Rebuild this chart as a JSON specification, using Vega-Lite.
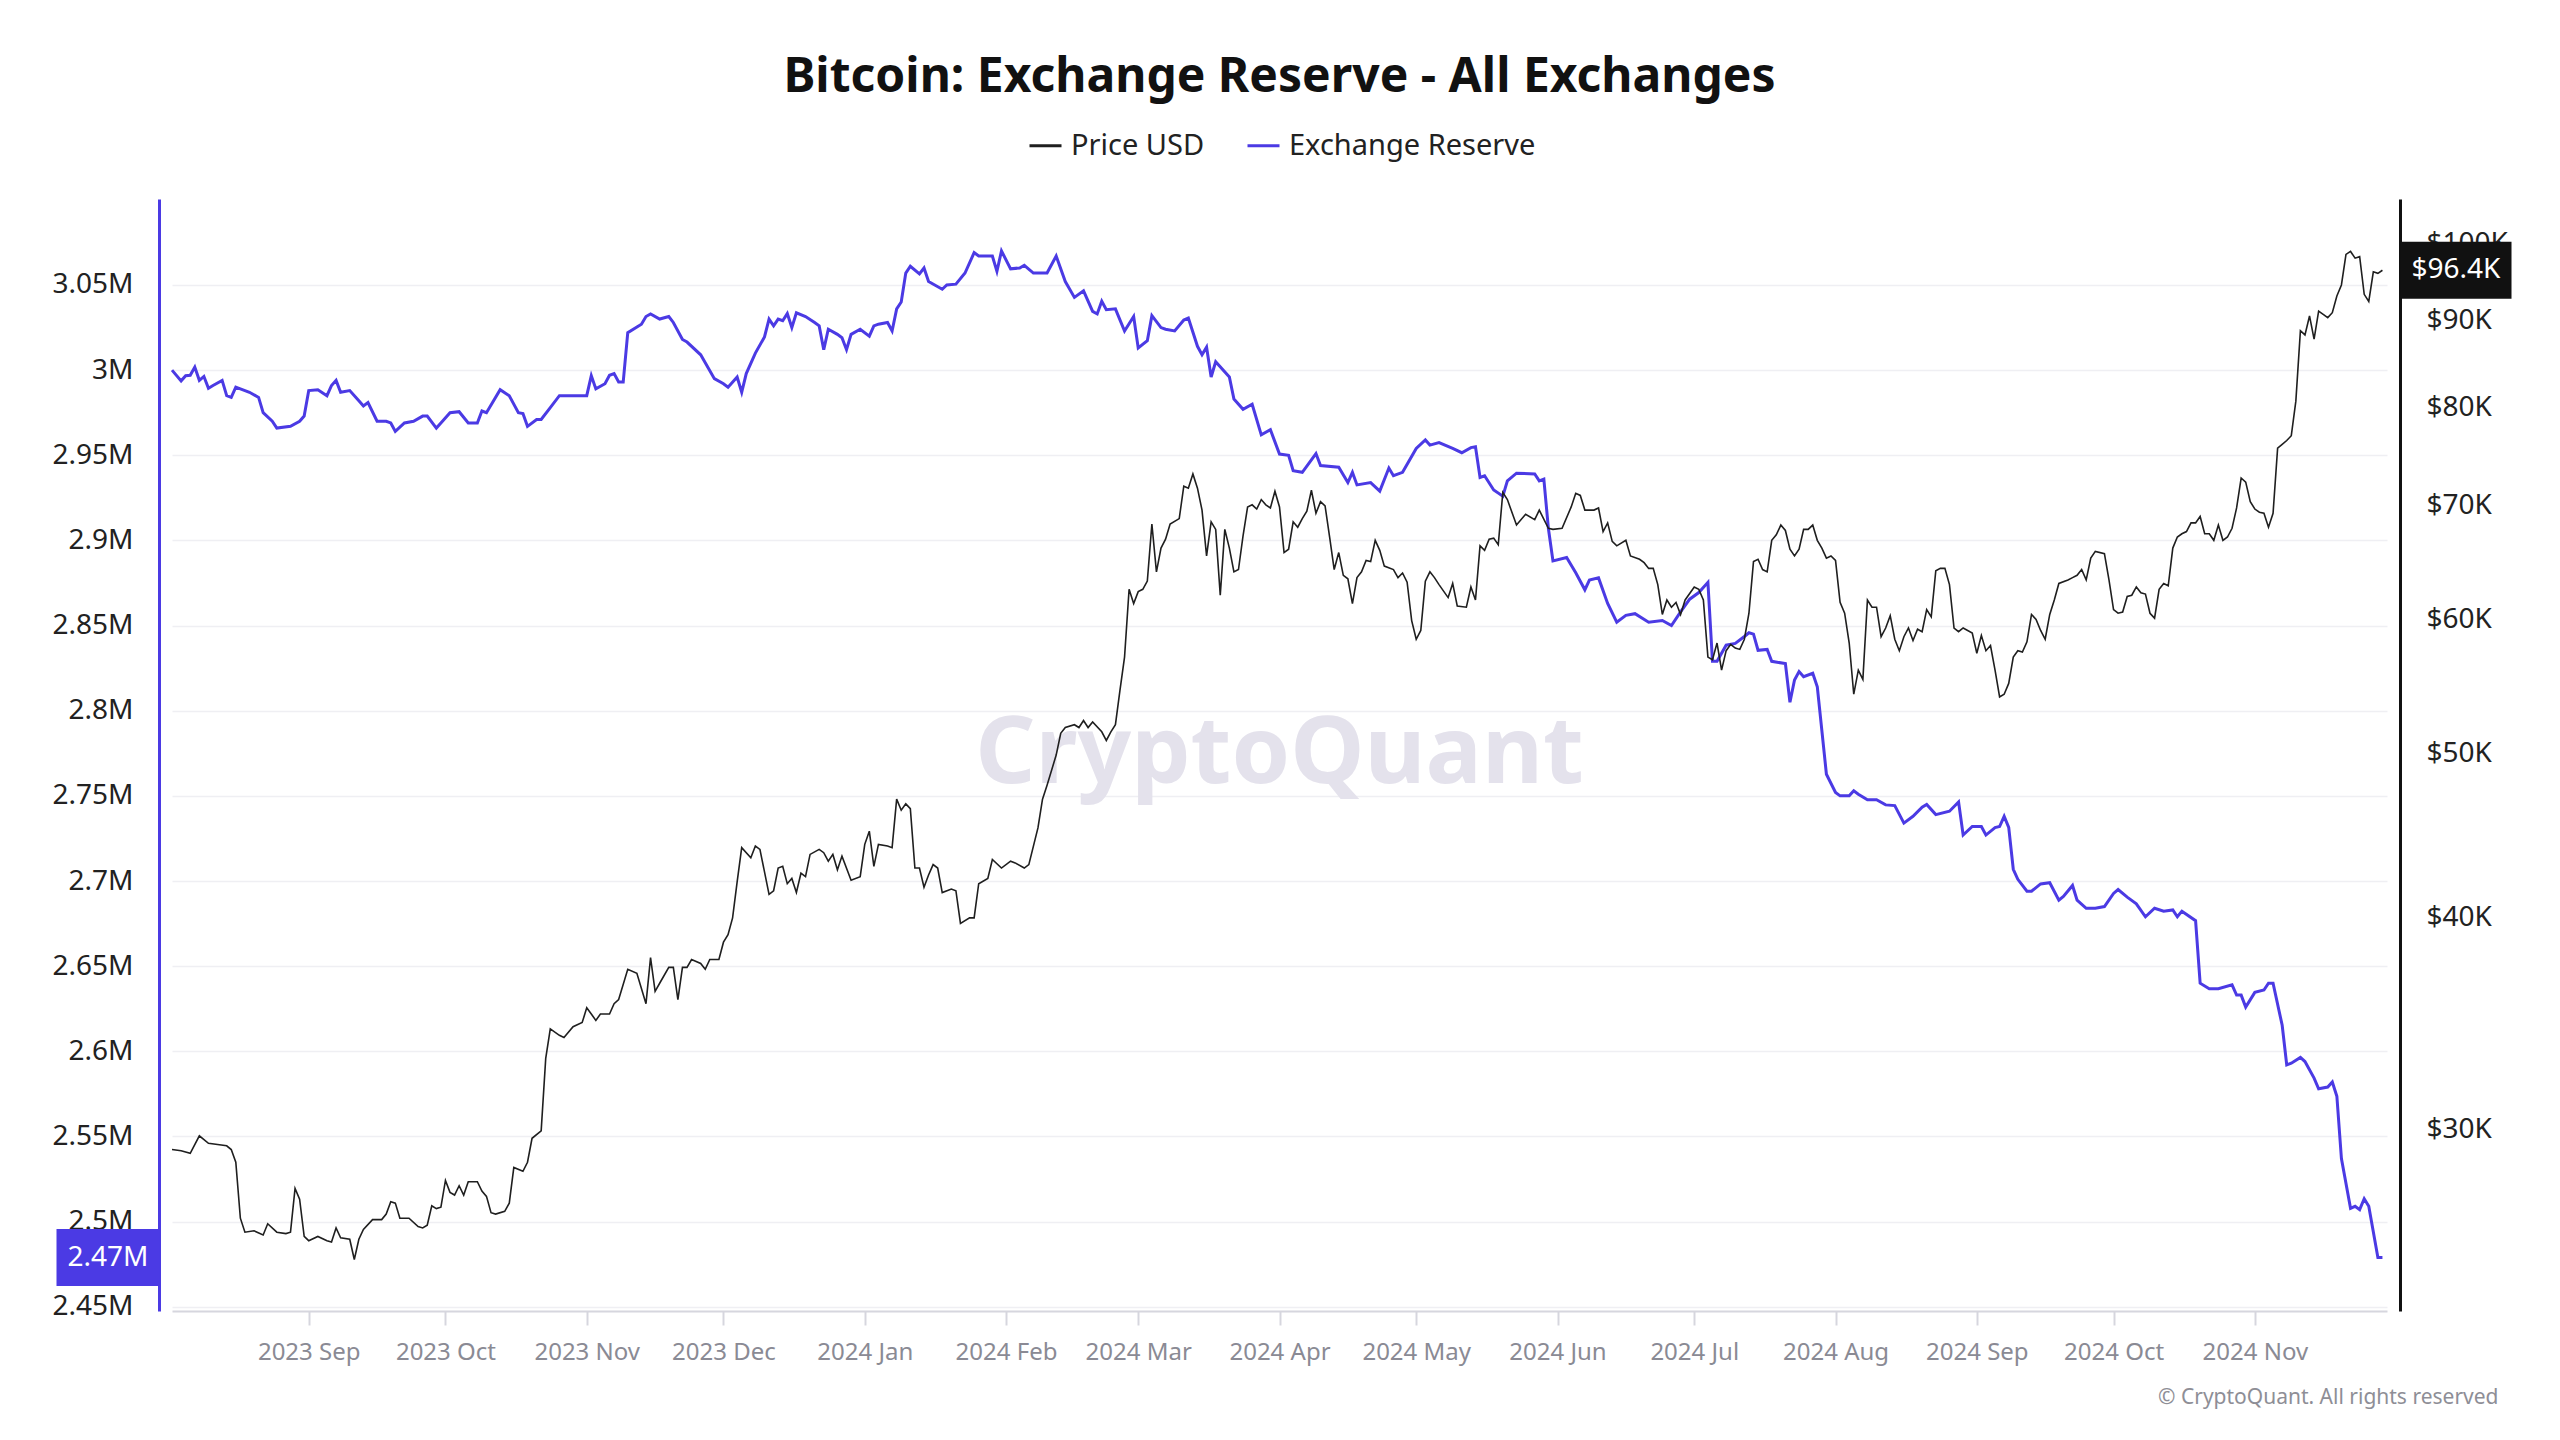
{
  "$schema": "https://vega.github.io/schema/vega-lite/v6.json",
  "width": 2215,
  "height": 1112,
  "autosize": {"type": "none"},
  "padding": {"left": 172, "top": 199, "right": 173, "bottom": 129},
  "background": "white",
  "title": {"text": "Bitcoin: Exchange Reserve - All Exchanges", "font": "Noto Sans", "fontSize": 48, "fontWeight": "bold", "color": "#111111", "anchor": "middle", "offset": 36, "dy": 48, "baseline": "alphabetic"},
  "config": {"view": {"stroke": null}, "font": "Noto Sans"},
  "datasets": {
    "price": [
      {"date":"2023-08-02","price":29200},{"date":"2023-08-04","price":29150},{"date":"2023-08-06","price":29050},{"date":"2023-08-08","price":29750},{"date":"2023-08-10","price":29450},{"date":"2023-08-12","price":29400},{"date":"2023-08-14","price":29350},{"date":"2023-08-15","price":29200},{"date":"2023-08-16","price":28700},{"date":"2023-08-17","price":26600},{"date":"2023-08-18","price":26100},{"date":"2023-08-20","price":26150},{"date":"2023-08-22","price":26000},{"date":"2023-08-23","price":26400},{"date":"2023-08-25","price":26100},{"date":"2023-08-27","price":26050},{"date":"2023-08-28","price":26100},{"date":"2023-08-29","price":27700},{"date":"2023-08-30","price":27300},{"date":"2023-08-31","price":25950},
      {"date":"2023-09-01","price":25800},{"date":"2023-09-03","price":25950},{"date":"2023-09-05","price":25800},{"date":"2023-09-06","price":25750},{"date":"2023-09-07","price":26250},{"date":"2023-09-08","price":25900},{"date":"2023-09-10","price":25850},{"date":"2023-09-11","price":25150},{"date":"2023-09-12","price":25850},{"date":"2023-09-13","price":26200},{"date":"2023-09-15","price":26550},{"date":"2023-09-17","price":26550},{"date":"2023-09-18","price":26750},{"date":"2023-09-19","price":27200},{"date":"2023-09-20","price":27150},{"date":"2023-09-21","price":26600},{"date":"2023-09-23","price":26600},{"date":"2023-09-25","price":26300},{"date":"2023-09-26","price":26250},{"date":"2023-09-27","price":26350},{"date":"2023-09-28","price":27050},{"date":"2023-09-29","price":26950},{"date":"2023-09-30","price":27000},
      {"date":"2023-10-01","price":28000},{"date":"2023-10-02","price":27550},{"date":"2023-10-03","price":27450},{"date":"2023-10-04","price":27800},{"date":"2023-10-05","price":27450},{"date":"2023-10-06","price":27950},{"date":"2023-10-08","price":27950},{"date":"2023-10-09","price":27600},{"date":"2023-10-10","price":27400},{"date":"2023-10-11","price":26800},{"date":"2023-10-12","price":26750},{"date":"2023-10-14","price":26850},{"date":"2023-10-15","price":27150},{"date":"2023-10-16","price":28500},{"date":"2023-10-18","price":28350},{"date":"2023-10-19","price":28700},{"date":"2023-10-20","price":29650},{"date":"2023-10-22","price":29950},{"date":"2023-10-23","price":33050},{"date":"2023-10-24","price":34400},{"date":"2023-10-26","price":34100},{"date":"2023-10-27","price":34000},{"date":"2023-10-29","price":34500},{"date":"2023-10-31","price":34700},
      {"date":"2023-11-01","price":35400},{"date":"2023-11-02","price":35100},{"date":"2023-11-03","price":34800},{"date":"2023-11-04","price":35100},{"date":"2023-11-06","price":35100},{"date":"2023-11-07","price":35600},{"date":"2023-11-08","price":35800},{"date":"2023-11-10","price":37300},{"date":"2023-11-12","price":37100},{"date":"2023-11-14","price":35600},{"date":"2023-11-15","price":37900},{"date":"2023-11-16","price":36200},{"date":"2023-11-17","price":36600},{"date":"2023-11-19","price":37400},{"date":"2023-11-20","price":37400},{"date":"2023-11-21","price":35800},{"date":"2023-11-22","price":37400},{"date":"2023-11-23","price":37400},{"date":"2023-11-24","price":37800},{"date":"2023-11-26","price":37600},{"date":"2023-11-27","price":37300},{"date":"2023-11-28","price":37800},{"date":"2023-11-30","price":37800},
      {"date":"2023-12-01","price":38700},{"date":"2023-12-02","price":39100},{"date":"2023-12-03","price":40000},{"date":"2023-12-04","price":42000},{"date":"2023-12-05","price":44000},{"date":"2023-12-07","price":43400},{"date":"2023-12-08","price":44100},{"date":"2023-12-09","price":43900},{"date":"2023-12-11","price":41300},{"date":"2023-12-12","price":41500},{"date":"2023-12-13","price":42800},{"date":"2023-12-14","price":42900},{"date":"2023-12-15","price":41900},{"date":"2023-12-16","price":42200},{"date":"2023-12-17","price":41400},{"date":"2023-12-18","price":42500},{"date":"2023-12-19","price":42300},{"date":"2023-12-20","price":43600},{"date":"2023-12-22","price":43900},{"date":"2023-12-23","price":43700},{"date":"2023-12-24","price":43200},{"date":"2023-12-25","price":43600},{"date":"2023-12-26","price":42700},{"date":"2023-12-27","price":43500},{"date":"2023-12-29","price":42100},{"date":"2023-12-31","price":42300},
      {"date":"2024-01-01","price":44200},{"date":"2024-01-02","price":45000},{"date":"2024-01-03","price":42900},{"date":"2024-01-04","price":44200},{"date":"2024-01-06","price":44100},{"date":"2024-01-07","price":44000},{"date":"2024-01-08","price":47000},{"date":"2024-01-09","price":46300},{"date":"2024-01-10","price":46700},{"date":"2024-01-11","price":46400},{"date":"2024-01-12","price":42800},{"date":"2024-01-13","price":42800},{"date":"2024-01-14","price":41700},{"date":"2024-01-15","price":42400},{"date":"2024-01-16","price":43000},{"date":"2024-01-17","price":42800},{"date":"2024-01-18","price":41400},{"date":"2024-01-20","price":41600},{"date":"2024-01-21","price":41500},{"date":"2024-01-22","price":39700},{"date":"2024-01-24","price":40000},{"date":"2024-01-25","price":40000},{"date":"2024-01-26","price":41900},{"date":"2024-01-28","price":42200},{"date":"2024-01-29","price":43300},{"date":"2024-01-31","price":42800},
      {"date":"2024-02-02","price":43200},{"date":"2024-02-03","price":43100},{"date":"2024-02-05","price":42800},{"date":"2024-02-06","price":43000},{"date":"2024-02-08","price":45200},{"date":"2024-02-09","price":47000},{"date":"2024-02-10","price":47900},{"date":"2024-02-12","price":49900},{"date":"2024-02-13","price":51400},{"date":"2024-02-14","price":51800},{"date":"2024-02-16","price":52000},{"date":"2024-02-17","price":51800},{"date":"2024-02-18","price":52300},{"date":"2024-02-19","price":51800},{"date":"2024-02-20","price":52200},{"date":"2024-02-22","price":51500},{"date":"2024-02-23","price":50900},{"date":"2024-02-24","price":51500},{"date":"2024-02-25","price":52000},{"date":"2024-02-26","price":54500},{"date":"2024-02-27","price":57000},{"date":"2024-02-28","price":62500},{"date":"2024-02-29","price":61300},
      {"date":"2024-03-01","price":62300},{"date":"2024-03-02","price":62500},{"date":"2024-03-03","price":63200},{"date":"2024-03-04","price":68300},{"date":"2024-03-05","price":64000},{"date":"2024-03-06","price":66100},{"date":"2024-03-07","price":66900},{"date":"2024-03-08","price":68300},{"date":"2024-03-10","price":68800},{"date":"2024-03-11","price":71900},{"date":"2024-03-12","price":71700},{"date":"2024-03-13","price":73100},{"date":"2024-03-14","price":71700},{"date":"2024-03-15","price":69600},{"date":"2024-03-16","price":65400},{"date":"2024-03-17","price":68500},{"date":"2024-03-18","price":67800},{"date":"2024-03-19","price":62000},{"date":"2024-03-20","price":67800},{"date":"2024-03-21","price":66100},{"date":"2024-03-22","price":64000},{"date":"2024-03-23","price":64200},{"date":"2024-03-24","price":67200},{"date":"2024-03-25","price":69900},{"date":"2024-03-26","price":70100},{"date":"2024-03-27","price":69700},{"date":"2024-03-28","price":70600},{"date":"2024-03-29","price":70100},{"date":"2024-03-30","price":69800},{"date":"2024-03-31","price":71400},
      {"date":"2024-04-01","price":69900},{"date":"2024-04-02","price":65700},{"date":"2024-04-03","price":66000},{"date":"2024-04-04","price":68500},{"date":"2024-04-05","price":68000},{"date":"2024-04-06","price":68800},{"date":"2024-04-07","price":69500},{"date":"2024-04-08","price":71500},{"date":"2024-04-09","price":69300},{"date":"2024-04-10","price":70400},{"date":"2024-04-11","price":70000},{"date":"2024-04-12","price":67100},{"date":"2024-04-13","price":64200},{"date":"2024-04-14","price":65700},{"date":"2024-04-15","price":63700},{"date":"2024-04-16","price":63400},{"date":"2024-04-17","price":61300},{"date":"2024-04-18","price":63500},{"date":"2024-04-19","price":64000},{"date":"2024-04-20","price":65000},{"date":"2024-04-21","price":64900},{"date":"2024-04-22","price":66800},{"date":"2024-04-23","price":65900},{"date":"2024-04-24","price":64500},{"date":"2024-04-26","price":64200},{"date":"2024-04-27","price":63500},{"date":"2024-04-28","price":63900},{"date":"2024-04-29","price":63100},{"date":"2024-04-30","price":59900},
      {"date":"2024-05-01","price":58400},{"date":"2024-05-02","price":59100},{"date":"2024-05-03","price":63200},{"date":"2024-05-04","price":64000},{"date":"2024-05-05","price":63500},{"date":"2024-05-06","price":62900},{"date":"2024-05-08","price":61800},{"date":"2024-05-09","price":63000},{"date":"2024-05-10","price":61100},{"date":"2024-05-12","price":61000},{"date":"2024-05-13","price":62700},{"date":"2024-05-14","price":61600},{"date":"2024-05-15","price":66300},{"date":"2024-05-16","price":65900},{"date":"2024-05-17","price":66900},{"date":"2024-05-18","price":67000},{"date":"2024-05-19","price":66400},{"date":"2024-05-20","price":71300},{"date":"2024-05-21","price":70600},{"date":"2024-05-23","price":68200},{"date":"2024-05-25","price":69200},{"date":"2024-05-27","price":68700},{"date":"2024-05-28","price":69600},{"date":"2024-05-30","price":67900},{"date":"2024-05-31","price":67800},
      {"date":"2024-06-02","price":67900},{"date":"2024-06-04","price":69900},{"date":"2024-06-05","price":71200},{"date":"2024-06-06","price":71000},{"date":"2024-06-07","price":69600},{"date":"2024-06-09","price":69600},{"date":"2024-06-10","price":69800},{"date":"2024-06-11","price":67600},{"date":"2024-06-12","price":68400},{"date":"2024-06-13","price":66700},{"date":"2024-06-14","price":66300},{"date":"2024-06-16","price":66800},{"date":"2024-06-17","price":65400},{"date":"2024-06-19","price":65100},{"date":"2024-06-20","price":64800},{"date":"2024-06-21","price":64300},{"date":"2024-06-22","price":64300},{"date":"2024-06-23","price":62900},{"date":"2024-06-24","price":60400},{"date":"2024-06-25","price":61600},{"date":"2024-06-26","price":61000},{"date":"2024-06-27","price":61400},{"date":"2024-06-28","price":60400},{"date":"2024-06-29","price":61600},
      {"date":"2024-07-01","price":62700},{"date":"2024-07-02","price":62500},{"date":"2024-07-03","price":61600},{"date":"2024-07-04","price":57000},{"date":"2024-07-05","price":56800},{"date":"2024-07-06","price":58100},{"date":"2024-07-07","price":56000},{"date":"2024-07-08","price":57500},{"date":"2024-07-09","price":58000},{"date":"2024-07-10","price":57700},{"date":"2024-07-11","price":57600},{"date":"2024-07-12","price":58400},{"date":"2024-07-13","price":60500},{"date":"2024-07-14","price":64900},{"date":"2024-07-15","price":65100},{"date":"2024-07-16","price":64200},{"date":"2024-07-17","price":64000},{"date":"2024-07-18","price":66800},{"date":"2024-07-19","price":67300},{"date":"2024-07-20","price":68200},{"date":"2024-07-21","price":67700},{"date":"2024-07-22","price":66000},{"date":"2024-07-23","price":65400},{"date":"2024-07-24","price":66000},{"date":"2024-07-25","price":67800},{"date":"2024-07-26","price":67800},{"date":"2024-07-27","price":68200},{"date":"2024-07-28","price":66800},{"date":"2024-07-29","price":66100},{"date":"2024-07-30","price":65200},{"date":"2024-07-31","price":65400},
      {"date":"2024-08-01","price":65000},{"date":"2024-08-02","price":61400},{"date":"2024-08-03","price":60500},{"date":"2024-08-04","price":58100},{"date":"2024-08-05","price":54200},{"date":"2024-08-06","price":56000},{"date":"2024-08-07","price":55300},{"date":"2024-08-08","price":61600},{"date":"2024-08-09","price":61000},{"date":"2024-08-10","price":61000},{"date":"2024-08-11","price":58600},{"date":"2024-08-12","price":59300},{"date":"2024-08-13","price":60300},{"date":"2024-08-14","price":58400},{"date":"2024-08-15","price":57500},{"date":"2024-08-16","price":58600},{"date":"2024-08-17","price":59300},{"date":"2024-08-18","price":58300},{"date":"2024-08-19","price":59200},{"date":"2024-08-20","price":59000},{"date":"2024-08-21","price":60800},{"date":"2024-08-22","price":60200},{"date":"2024-08-23","price":64100},{"date":"2024-08-24","price":64300},{"date":"2024-08-25","price":64300},{"date":"2024-08-26","price":62900},{"date":"2024-08-27","price":59300},{"date":"2024-08-28","price":59000},{"date":"2024-08-29","price":59300},{"date":"2024-08-31","price":58900},
      {"date":"2024-09-01","price":57300},{"date":"2024-09-02","price":58700},{"date":"2024-09-03","price":57500},{"date":"2024-09-04","price":57900},{"date":"2024-09-05","price":56000},{"date":"2024-09-06","price":54000},{"date":"2024-09-07","price":54200},{"date":"2024-09-08","price":55000},{"date":"2024-09-09","price":57000},{"date":"2024-09-10","price":57500},{"date":"2024-09-11","price":57400},{"date":"2024-09-12","price":58200},{"date":"2024-09-13","price":60400},{"date":"2024-09-14","price":60000},{"date":"2024-09-15","price":59100},{"date":"2024-09-16","price":58400},{"date":"2024-09-17","price":60400},{"date":"2024-09-18","price":61600},{"date":"2024-09-19","price":63000},{"date":"2024-09-21","price":63300},{"date":"2024-09-22","price":63500},{"date":"2024-09-23","price":63700},{"date":"2024-09-24","price":64200},{"date":"2024-09-25","price":63300},{"date":"2024-09-26","price":65200},{"date":"2024-09-27","price":65800},{"date":"2024-09-29","price":65600},{"date":"2024-09-30","price":63300},
      {"date":"2024-10-01","price":60800},{"date":"2024-10-02","price":60500},{"date":"2024-10-03","price":60600},{"date":"2024-10-04","price":61900},{"date":"2024-10-05","price":62000},{"date":"2024-10-06","price":62700},{"date":"2024-10-07","price":62200},{"date":"2024-10-08","price":62100},{"date":"2024-10-09","price":60500},{"date":"2024-10-10","price":60100},{"date":"2024-10-11","price":62500},{"date":"2024-10-12","price":63000},{"date":"2024-10-13","price":62800},{"date":"2024-10-14","price":66100},{"date":"2024-10-15","price":67100},{"date":"2024-10-16","price":67400},{"date":"2024-10-17","price":67600},{"date":"2024-10-18","price":68400},{"date":"2024-10-19","price":68400},{"date":"2024-10-20","price":69000},{"date":"2024-10-21","price":67400},{"date":"2024-10-22","price":67400},{"date":"2024-10-23","price":66800},{"date":"2024-10-24","price":68200},{"date":"2024-10-25","price":66800},{"date":"2024-10-26","price":67100},{"date":"2024-10-27","price":67900},{"date":"2024-10-28","price":69800},{"date":"2024-10-29","price":72700},{"date":"2024-10-30","price":72300},{"date":"2024-10-31","price":70400},
      {"date":"2024-11-01","price":69700},{"date":"2024-11-02","price":69400},{"date":"2024-11-03","price":69300},{"date":"2024-11-04","price":68000},{"date":"2024-11-05","price":69300},{"date":"2024-11-06","price":75700},{"date":"2024-11-07","price":76100},{"date":"2024-11-08","price":76500},{"date":"2024-11-09","price":77000},{"date":"2024-11-10","price":80700},{"date":"2024-11-11","price":88800},{"date":"2024-11-12","price":88300},{"date":"2024-11-13","price":90600},{"date":"2024-11-14","price":87800},{"date":"2024-11-15","price":91200},{"date":"2024-11-16","price":90800},{"date":"2024-11-17","price":90400},{"date":"2024-11-18","price":91000},{"date":"2024-11-19","price":93100},{"date":"2024-11-20","price":94500},{"date":"2024-11-21","price":98500},{"date":"2024-11-22","price":98900},{"date":"2024-11-23","price":98000},{"date":"2024-11-24","price":98200},{"date":"2024-11-25","price":93300},{"date":"2024-11-26","price":92400},{"date":"2024-11-27","price":96200},{"date":"2024-11-28","price":96000},{"date":"2024-11-29","price":96400}
    ],
    "reserve": [
      {"date":"2023-08-02","reserve":3000000},{"date":"2023-08-04","reserve":2993700},{"date":"2023-08-05","reserve":2996700},{"date":"2023-08-06","reserve":2997000},{"date":"2023-08-07","reserve":3001800},{"date":"2023-08-08","reserve":2994000},{"date":"2023-08-09","reserve":2996300},{"date":"2023-08-10","reserve":2989400},{"date":"2023-08-11","reserve":2991000},{"date":"2023-08-13","reserve":2994000},{"date":"2023-08-14","reserve":2985000},{"date":"2023-08-15","reserve":2984000},{"date":"2023-08-16","reserve":2990000},{"date":"2023-08-17","reserve":2989000},{"date":"2023-08-19","reserve":2987000},{"date":"2023-08-21","reserve":2984000},{"date":"2023-08-22","reserve":2975000},{"date":"2023-08-24","reserve":2970000},{"date":"2023-08-25","reserve":2966000},{"date":"2023-08-28","reserve":2967000},{"date":"2023-08-30","reserve":2970000},{"date":"2023-08-31","reserve":2973000},
      {"date":"2023-09-01","reserve":2988000},{"date":"2023-09-03","reserve":2988500},{"date":"2023-09-05","reserve":2985000},{"date":"2023-09-06","reserve":2991000},{"date":"2023-09-07","reserve":2994000},{"date":"2023-09-08","reserve":2987000},{"date":"2023-09-10","reserve":2988000},{"date":"2023-09-12","reserve":2982000},{"date":"2023-09-13","reserve":2979000},{"date":"2023-09-14","reserve":2981000},{"date":"2023-09-16","reserve":2970000},{"date":"2023-09-18","reserve":2970000},{"date":"2023-09-19","reserve":2969000},{"date":"2023-09-20","reserve":2964000},{"date":"2023-09-22","reserve":2969000},{"date":"2023-09-24","reserve":2970000},{"date":"2023-09-26","reserve":2973000},{"date":"2023-09-27","reserve":2973000},{"date":"2023-09-29","reserve":2966000},{"date":"2023-09-30","reserve":2969000},
      {"date":"2023-10-02","reserve":2975000},{"date":"2023-10-04","reserve":2975600},{"date":"2023-10-06","reserve":2969000},{"date":"2023-10-08","reserve":2969000},{"date":"2023-10-09","reserve":2976000},{"date":"2023-10-10","reserve":2975000},{"date":"2023-10-13","reserve":2988500},{"date":"2023-10-15","reserve":2985000},{"date":"2023-10-17","reserve":2975000},{"date":"2023-10-18","reserve":2974500},{"date":"2023-10-19","reserve":2967000},{"date":"2023-10-21","reserve":2971000},{"date":"2023-10-22","reserve":2971000},{"date":"2023-10-24","reserve":2978000},{"date":"2023-10-26","reserve":2985000},{"date":"2023-10-28","reserve":2985000},
      {"date":"2023-11-01","reserve":2985000},{"date":"2023-11-02","reserve":2996700},{"date":"2023-11-03","reserve":2989000},{"date":"2023-11-05","reserve":2992000},{"date":"2023-11-06","reserve":2997000},{"date":"2023-11-07","reserve":2998000},{"date":"2023-11-08","reserve":2993000},{"date":"2023-11-09","reserve":2993000},{"date":"2023-11-10","reserve":3022000},{"date":"2023-11-13","reserve":3027000},{"date":"2023-11-14","reserve":3031500},{"date":"2023-11-15","reserve":3033000},{"date":"2023-11-17","reserve":3030000},{"date":"2023-11-19","reserve":3031500},{"date":"2023-11-20","reserve":3028000},{"date":"2023-11-22","reserve":3018000},{"date":"2023-11-23","reserve":3016500},{"date":"2023-11-26","reserve":3009000},{"date":"2023-11-29","reserve":2995000},
      {"date":"2023-12-01","reserve":2992000},{"date":"2023-12-02","reserve":2990000},{"date":"2023-12-04","reserve":2996000},{"date":"2023-12-05","reserve":2987000},{"date":"2023-12-06","reserve":2998000},{"date":"2023-12-08","reserve":3010000},{"date":"2023-12-10","reserve":3019500},{"date":"2023-12-11","reserve":3030000},{"date":"2023-12-12","reserve":3026000},{"date":"2023-12-13","reserve":3030000},{"date":"2023-12-14","reserve":3029000},{"date":"2023-12-15","reserve":3033200},{"date":"2023-12-16","reserve":3025000},{"date":"2023-12-17","reserve":3033700},{"date":"2023-12-19","reserve":3031500},{"date":"2023-12-21","reserve":3028000},{"date":"2023-12-22","reserve":3026000},{"date":"2023-12-23","reserve":3012000},{"date":"2023-12-24","reserve":3024000},{"date":"2023-12-26","reserve":3021000},{"date":"2023-12-27","reserve":3019000},{"date":"2023-12-28","reserve":3012000},{"date":"2023-12-29","reserve":3021000},{"date":"2023-12-31","reserve":3024000},
      {"date":"2024-01-02","reserve":3020000},{"date":"2024-01-03","reserve":3026000},{"date":"2024-01-04","reserve":3027000},{"date":"2024-01-06","reserve":3028000},{"date":"2024-01-07","reserve":3023000},{"date":"2024-01-08","reserve":3036000},{"date":"2024-01-09","reserve":3040000},{"date":"2024-01-10","reserve":3057000},{"date":"2024-01-11","reserve":3061000},{"date":"2024-01-13","reserve":3056500},{"date":"2024-01-14","reserve":3060000},{"date":"2024-01-15","reserve":3052000},{"date":"2024-01-18","reserve":3047500},{"date":"2024-01-19","reserve":3050000},{"date":"2024-01-21","reserve":3050500},{"date":"2024-01-23","reserve":3057000},{"date":"2024-01-25","reserve":3069000},{"date":"2024-01-26","reserve":3067000},{"date":"2024-01-29","reserve":3067000},{"date":"2024-01-30","reserve":3058000},{"date":"2024-01-31","reserve":3070000},
      {"date":"2024-02-02","reserve":3059500},{"date":"2024-02-04","reserve":3060000},{"date":"2024-02-05","reserve":3061600},{"date":"2024-02-07","reserve":3057000},{"date":"2024-02-10","reserve":3057000},{"date":"2024-02-12","reserve":3067000},{"date":"2024-02-14","reserve":3052000},{"date":"2024-02-16","reserve":3042700},{"date":"2024-02-18","reserve":3046600},{"date":"2024-02-20","reserve":3034500},{"date":"2024-02-21","reserve":3033000},{"date":"2024-02-22","reserve":3040500},{"date":"2024-02-23","reserve":3035500},{"date":"2024-02-25","reserve":3036000},{"date":"2024-02-27","reserve":3023000},{"date":"2024-02-29","reserve":3031500},
      {"date":"2024-03-01","reserve":3013000},{"date":"2024-03-03","reserve":3017300},{"date":"2024-03-04","reserve":3032000},{"date":"2024-03-06","reserve":3025000},{"date":"2024-03-07","reserve":3024000},{"date":"2024-03-09","reserve":3023000},{"date":"2024-03-11","reserve":3029400},{"date":"2024-03-12","reserve":3030600},{"date":"2024-03-14","reserve":3014000},{"date":"2024-03-15","reserve":3009000},{"date":"2024-03-16","reserve":3013500},{"date":"2024-03-17","reserve":2996000},{"date":"2024-03-18","reserve":3004900},{"date":"2024-03-21","reserve":2996000},{"date":"2024-03-22","reserve":2983000},{"date":"2024-03-24","reserve":2977000},{"date":"2024-03-26","reserve":2980000},{"date":"2024-03-28","reserve":2962000},{"date":"2024-03-30","reserve":2965000},
      {"date":"2024-04-01","reserve":2950700},{"date":"2024-04-03","reserve":2950000},{"date":"2024-04-04","reserve":2941000},{"date":"2024-04-06","reserve":2940000},{"date":"2024-04-09","reserve":2951000},{"date":"2024-04-10","reserve":2944000},{"date":"2024-04-14","reserve":2943000},{"date":"2024-04-16","reserve":2934000},{"date":"2024-04-17","reserve":2940000},{"date":"2024-04-18","reserve":2932600},{"date":"2024-04-21","reserve":2934000},{"date":"2024-04-23","reserve":2929000},{"date":"2024-04-25","reserve":2942500},{"date":"2024-04-26","reserve":2938000},{"date":"2024-04-28","reserve":2940000},
      {"date":"2024-05-01","reserve":2954000},{"date":"2024-05-03","reserve":2959000},{"date":"2024-05-04","reserve":2956000},{"date":"2024-05-06","reserve":2957500},{"date":"2024-05-09","reserve":2954000},{"date":"2024-05-11","reserve":2951500},{"date":"2024-05-13","reserve":2954500},{"date":"2024-05-14","reserve":2955000},{"date":"2024-05-15","reserve":2937000},{"date":"2024-05-16","reserve":2938000},{"date":"2024-05-18","reserve":2929600},{"date":"2024-05-20","reserve":2926000},{"date":"2024-05-21","reserve":2935000},{"date":"2024-05-23","reserve":2939500},{"date":"2024-05-27","reserve":2939000},{"date":"2024-05-28","reserve":2935000},{"date":"2024-05-29","reserve":2936000},{"date":"2024-05-30","reserve":2907000},{"date":"2024-05-31","reserve":2888000},
      {"date":"2024-06-03","reserve":2890000},{"date":"2024-06-05","reserve":2881000},{"date":"2024-06-07","reserve":2871000},{"date":"2024-06-08","reserve":2876700},{"date":"2024-06-10","reserve":2878000},{"date":"2024-06-12","reserve":2863000},{"date":"2024-06-14","reserve":2852000},{"date":"2024-06-16","reserve":2856000},{"date":"2024-06-18","reserve":2857000},{"date":"2024-06-21","reserve":2852000},{"date":"2024-06-24","reserve":2853000},{"date":"2024-06-26","reserve":2850000},{"date":"2024-06-28","reserve":2858000},{"date":"2024-06-30","reserve":2865500},
      {"date":"2024-07-02","reserve":2869400},{"date":"2024-07-04","reserve":2875400},{"date":"2024-07-05","reserve":2829000},{"date":"2024-07-06","reserve":2829000},{"date":"2024-07-08","reserve":2838500},{"date":"2024-07-10","reserve":2839500},{"date":"2024-07-12","reserve":2843600},{"date":"2024-07-13","reserve":2845800},{"date":"2024-07-14","reserve":2845000},{"date":"2024-07-15","reserve":2835500},{"date":"2024-07-17","reserve":2836000},{"date":"2024-07-18","reserve":2829000},{"date":"2024-07-21","reserve":2827700},{"date":"2024-07-22","reserve":2805000},{"date":"2024-07-23","reserve":2818000},{"date":"2024-07-24","reserve":2823000},{"date":"2024-07-25","reserve":2820000},{"date":"2024-07-27","reserve":2822000},{"date":"2024-07-28","reserve":2814000},{"date":"2024-07-30","reserve":2762700},
      {"date":"2024-08-01","reserve":2752000},{"date":"2024-08-02","reserve":2750000},{"date":"2024-08-04","reserve":2750000},{"date":"2024-08-05","reserve":2753000},{"date":"2024-08-06","reserve":2751000},{"date":"2024-08-08","reserve":2747700},{"date":"2024-08-10","reserve":2747700},{"date":"2024-08-12","reserve":2744700},{"date":"2024-08-14","reserve":2744300},{"date":"2024-08-16","reserve":2734000},{"date":"2024-08-18","reserve":2738000},{"date":"2024-08-20","reserve":2743400},{"date":"2024-08-21","reserve":2745000},{"date":"2024-08-23","reserve":2739000},{"date":"2024-08-26","reserve":2741000},{"date":"2024-08-28","reserve":2746400},{"date":"2024-08-29","reserve":2727000},{"date":"2024-08-31","reserve":2732000},
      {"date":"2024-09-02","reserve":2732000},{"date":"2024-09-03","reserve":2727000},{"date":"2024-09-05","reserve":2731400},{"date":"2024-09-06","reserve":2732000},{"date":"2024-09-07","reserve":2738000},{"date":"2024-09-08","reserve":2731500},{"date":"2024-09-09","reserve":2706900},{"date":"2024-09-10","reserve":2701000},{"date":"2024-09-12","reserve":2694000},{"date":"2024-09-13","reserve":2694000},{"date":"2024-09-15","reserve":2698300},{"date":"2024-09-17","reserve":2699000},{"date":"2024-09-19","reserve":2688800},{"date":"2024-09-20","reserve":2691000},{"date":"2024-09-22","reserve":2697400},{"date":"2024-09-23","reserve":2688800},{"date":"2024-09-25","reserve":2684000},{"date":"2024-09-27","reserve":2684000},{"date":"2024-09-29","reserve":2685000},
      {"date":"2024-10-01","reserve":2692700},{"date":"2024-10-02","reserve":2695000},{"date":"2024-10-04","reserve":2690500},{"date":"2024-10-06","reserve":2686600},{"date":"2024-10-08","reserve":2679000},{"date":"2024-10-10","reserve":2684000},{"date":"2024-10-12","reserve":2682300},{"date":"2024-10-14","reserve":2683000},{"date":"2024-10-15","reserve":2679000},{"date":"2024-10-16","reserve":2682300},{"date":"2024-10-19","reserve":2676700},{"date":"2024-10-20","reserve":2640000},{"date":"2024-10-22","reserve":2636700},{"date":"2024-10-24","reserve":2636700},{"date":"2024-10-27","reserve":2639000},{"date":"2024-10-28","reserve":2633000},{"date":"2024-10-29","reserve":2633000},{"date":"2024-10-30","reserve":2626000},
      {"date":"2024-11-01","reserve":2634600},{"date":"2024-11-03","reserve":2636000},{"date":"2024-11-04","reserve":2640000},{"date":"2024-11-05","reserve":2640000},{"date":"2024-11-07","reserve":2615300},{"date":"2024-11-08","reserve":2592000},{"date":"2024-11-09","reserve":2593000},{"date":"2024-11-11","reserve":2596400},{"date":"2024-11-12","reserve":2594000},{"date":"2024-11-14","reserve":2584300},{"date":"2024-11-15","reserve":2578000},{"date":"2024-11-17","reserve":2579000},{"date":"2024-11-18","reserve":2582000},{"date":"2024-11-19","reserve":2573600},{"date":"2024-11-20","reserve":2537000},{"date":"2024-11-22","reserve":2507800},{"date":"2024-11-23","reserve":2509000},{"date":"2024-11-24","reserve":2507000},{"date":"2024-11-25","reserve":2513400},{"date":"2024-11-26","reserve":2509000},{"date":"2024-11-28","reserve":2478900},{"date":"2024-11-29","reserve":2478900}
    ]
  },
  "layer": [
    {
      "data": {"values": [{"t": "CryptoQuant"}]},
      "mark": {"type": "text", "font": "Noto Sans", "fontSize": 94, "fontWeight": "bold", "color": "#e4e2ec", "align": "center", "baseline": "middle"},
      "encoding": {"text": {"field": "t"}}
    },
    {
      "layer": [
        {
          "data": {"name": "reserve"},
          "mark": {"type": "line", "strokeWidth": 3},
          "encoding": {
            "x": {"field": "date", "type": "temporal",
              "scale": {"type": "utc", "domain": [{"year": 2023, "month": 8, "date": 2, "utc": true}, {"year": 2024, "month": 11, "date": 30, "utc": true}]},
              "axis": {"format": "%Y %b", "tickCount": {"interval": "month", "step": 1}, "labelFont": "Noto Sans", "labelFontSize": 24, "labelColor": "#8a8a94", "tickColor": "#d6d6de", "tickSize": 14, "tickWidth": 2, "domainColor": "#d6d6de", "domainWidth": 2, "labelPadding": 15, "grid": false, "labelOverlap": false,
                "title": "© CryptoQuant. All rights reserved", "titleX": 2326, "titleY": 86, "titleAlign": "right", "titleAnchor": "end", "titleBaseline": "middle", "titleFont": "Noto Sans", "titleFontSize": 21, "titleFontWeight": "normal", "titleColor": "#8e8e96"}},
            "y": {"field": "reserve", "type": "quantitative",
              "scale": {"domain": [2447500, 3100500], "nice": false, "zero": false},
              "axis": {"orient": "left", "offset": 13, "values": [2450000, 2500000, 2550000, 2600000, 2650000, 2700000, 2750000, 2800000, 2850000, 2900000, 2950000, 3000000, 3050000], "labelExpr": "format(datum.value/1000000, '.3~r') + 'M'", "labelFont": "Noto Sans", "labelFontSize": 28, "labelColor": "#222222", "labelPadding": 26, "ticks": false, "domainColor": "#4b3ae4", "domainWidth": 3, "grid": true, "gridColor": "#efeff3", "gridWidth": 1.5, "title": null}},
            "color": {"datum": "Exchange Reserve", "type": "nominal",
              "scale": {"domain": ["Price USD", "Exchange Reserve"], "range": ["#1f1f1f", "#4b3ae4"]},
              "legend": {"orient": "none", "legendX": 856, "legendY": -71, "direction": "horizontal", "title": null, "symbolType": "stroke", "symbolSize": 1024, "symbolStrokeWidth": 3, "labelFont": "Noto Sans", "labelFontSize": 29, "labelColor": "#222222", "labelOffset": 8, "labelLimit": 500, "columnPadding": 36, "padding": 0}}
          }
        },
        {
          "data": {"values": [{"date": "2024-11-29", "reserve": 2478900}]},
          "mark": {"type": "point", "shape": "M-1,-0.553H1V0.553H-1Z", "size": 10609, "filled": true, "color": "#4b3ae4", "opacity": 1, "xOffset": -64},
          "encoding": {
            "x": {"datum": {"year": 2023, "month": 8, "date": 2, "utc": true}, "type": "temporal"},
            "y": {"field": "reserve", "type": "quantitative"}
          }
        },
        {
          "data": {"values": [{"date": "2024-11-29", "reserve": 2478900}]},
          "mark": {"type": "text", "text": "2.47M", "font": "Noto Sans", "fontSize": 28, "color": "#ffffff", "align": "center", "baseline": "middle", "xOffset": -64},
          "encoding": {
            "x": {"datum": {"year": 2023, "month": 8, "date": 2, "utc": true}, "type": "temporal"},
            "y": {"field": "reserve", "type": "quantitative"}
          }
        }
      ]
    },
    {
      "layer": [
        {
          "data": {"name": "price"},
          "mark": {"type": "line", "strokeWidth": 1.6},
          "encoding": {
            "x": {"field": "date", "type": "temporal"},
            "y": {"field": "price", "type": "quantitative",
              "scale": {"type": "log", "domain": [23450, 106200], "nice": false},
              "axis": {"orient": "right", "offset": 13, "values": [30000, 40000, 50000, 60000, 70000, 80000, 90000, 100000], "labelExpr": "'$' + format(datum.value/1000, 'd') + 'K'", "labelFont": "Noto Sans", "labelFontSize": 28, "labelColor": "#222222", "labelPadding": 26, "ticks": false, "domainColor": "#111111", "domainWidth": 3, "grid": false, "title": null}},
            "color": {"datum": "Price USD", "type": "nominal"}
          }
        },
        {
          "data": {"values": [{"date": "2024-11-29", "price": 96400}]},
          "mark": {"type": "point", "shape": "M-1,-0.514H1V0.514H-1Z", "size": 12321, "filled": true, "color": "#111111", "opacity": 1, "xOffset": 69},
          "encoding": {
            "x": {"datum": {"year": 2024, "month": 11, "date": 30, "utc": true}, "type": "temporal"},
            "y": {"field": "price", "type": "quantitative"}
          }
        },
        {
          "data": {"values": [{"date": "2024-11-29", "price": 96400}]},
          "mark": {"type": "text", "text": "$96.4K", "font": "Noto Sans", "fontSize": 28, "color": "#ffffff", "align": "center", "baseline": "middle", "xOffset": 69},
          "encoding": {
            "x": {"datum": {"year": 2024, "month": 11, "date": 30, "utc": true}, "type": "temporal"},
            "y": {"field": "price", "type": "quantitative"}
          }
        }
      ]
    }
  ],
  "resolve": {"scale": {"y": "independent"}}
}
